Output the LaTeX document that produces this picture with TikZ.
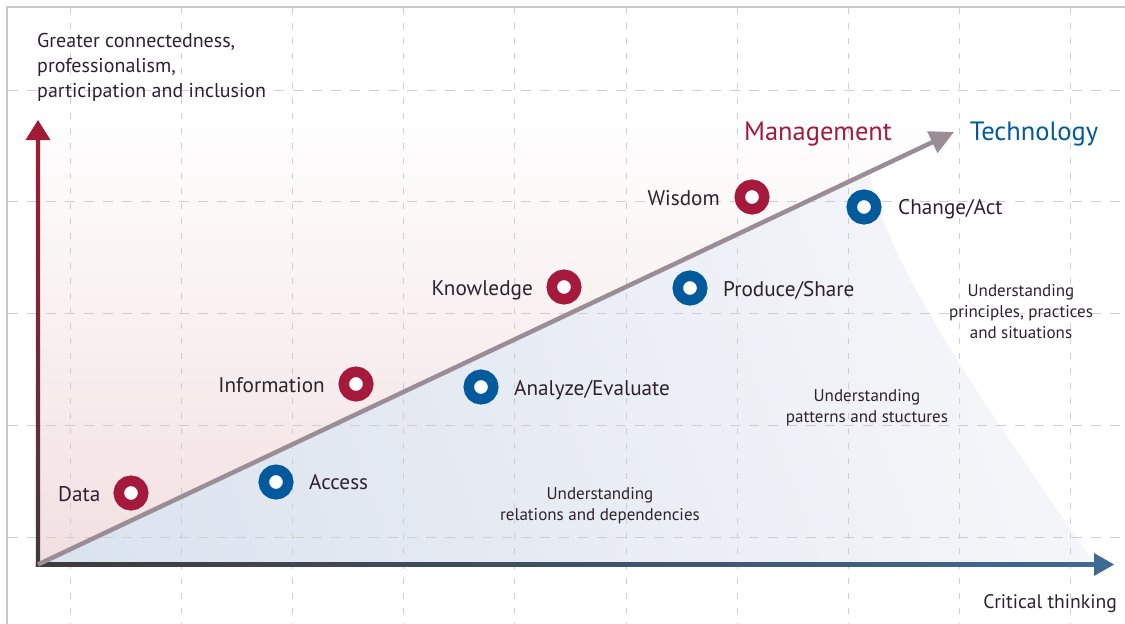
\documentclass[tikz,border=0pt]{standalone}
\usepackage{fontspec}
\setmainfont{PT Sans}
\usetikzlibrary{arrows.meta}
\definecolor{txt}{HTML}{2E2130}
\definecolor{mred}{HTML}{A51A3C}
\definecolor{tblue}{HTML}{005A9C}
\definecolor{gridc}{HTML}{CFCFCF}
\definecolor{framec}{HTML}{C8C8C8}
\definecolor{axdark}{HTML}{3F3A3B}
\definecolor{axred}{HTML}{A01C36}
\definecolor{axblue}{HTML}{3F6A93}
\definecolor{diagc}{HTML}{9A8D95}
\definecolor{pinkA}{HTML}{EBCDD1}
\definecolor{pinkB}{HTML}{F5E6E7}
\definecolor{blueA}{HTML}{D0DFED}
\definecolor{blueB}{HTML}{E4E9F2}
\definecolor{blueC}{HTML}{F4F5F9}
\definecolor{blueD}{HTML}{FDFDFE}
\pgfdeclareverticalshading{pinkshade}{100bp}{color(0bp)=(pinkA); color(35bp)=(pinkB); color(75bp)=(white); color(100bp)=(white)}
\pgfdeclarehorizontalshading{blueshade}{100bp}{color(0bp)=(blueA); color(40bp)=(blueB); color(72bp)=(blueC); color(100bp)=(blueD)}
\begin{document}
\begin{tikzpicture}[x=1pt,y=-1pt,
  ring/.style={circle, inner sep=0pt, minimum size=24.5pt, line width=10.5pt, fill=white},
  redring/.style={ring, draw=mred},
  bluering/.style={ring, draw=tblue},
  lbl/.style={font=\fontsize{21.2}{25}\selectfont, text=txt, inner sep=0pt},
  small/.style={font=\fontsize{17}{21}\selectfont, text=txt, inner sep=0pt, align=center},
  vgrid/.style={gridc, line width=1pt, dash pattern=on 6pt off 9pt},
  hgrid/.style={gridc, line width=1pt, dash pattern=on 10pt off 9pt}]
\useasboundingbox (0,0) rectangle (1125,624);
\fill[white] (0,0) rectangle (1125,624);
\coordinate (O) at (38,564.5);
\coordinate (ytip) at (38,120);
\coordinate (xtip) at (1114,564.5);
\coordinate (dtip) at (954,132);
% shaded regions
\shade[shading=pinkshade] (O) -- (38,105) -- (954,105) -- (dtip) -- cycle;
\shade[shading=blueshade, shading angle=20] (O) -- (870,173.5) .. controls (885,270) and (1010,440) .. (1096,566) -- cycle;
% frame
\draw[framec, line width=2pt] (7,624) -- (7,7) -- (1125,7);
% grid
\foreach \gx in {70,181.2,292.4,403.6,514.8,626,737.2,848.4,959.6,1070.8}
  \draw[vgrid] (\gx,8) -- (\gx,624);
\foreach \gy in {90,201.75,313.5,425.25,537}
  \draw[hgrid] (8,\gy) -- (1125,\gy);
% axes
\shade[bottom color=axdark, top color=axred] (35.8,566.8) rectangle (40.2,138);
\fill[axred] (ytip) -- (25.5,140) -- (50.5,140) -- cycle;
\shade[left color=axdark, right color=axblue] (35.8,562.2) rectangle (1096,566.8);
\fill[axblue] (xtip) -- (1094,553) -- (1094,576) -- cycle;
\draw[diagc, line width=4.5pt, -{Triangle[length=24pt,width=23pt]}] (O) -- (dtip);
% rings
\node[redring] (data) at (131,493) {};
\node[redring] (info) at (356,384) {};
\node[redring] (know) at (564,287) {};
\node[redring] (wis) at (752,197) {};
\node[bluering] (acc) at (276,482) {};
\node[bluering] (ana) at (481,387) {};
\node[bluering] (prod) at (690,288) {};
\node[bluering] (chg) at (864,207) {};
% labels
\node[lbl, anchor=base east] (datal) at (100.5,501) {Data};
\node[lbl, anchor=base east] (infol) at (325,392) {Information};
\node[lbl, anchor=base east] (knowl) at (533,295) {Knowledge};
\node[lbl, anchor=base east] (wisl) at (720,205) {Wisdom};
\node[lbl, anchor=base west] (accl) at (309,489) {Access};
\node[lbl, anchor=base west] (anal) at (514,395) {Analyze/Evaluate};
\node[lbl, anchor=base west] (prodl) at (723,296) {Produce/Share};
\node[lbl, anchor=base west] (chgl) at (898,214) {Change/Act};
% axis texts
\node[lbl, font=\fontsize{20}{25}\selectfont, align=left, anchor=base west] (ylab) at (37,97) {Greater connectedness,\\professionalism,\\participation and inclusion};
\node[lbl, font=\fontsize{19.6}{23}\selectfont, anchor=base east] (xlab) at (1117,608) {Critical thinking};
\node[lbl, font=\fontsize{26.5}{30}\selectfont, text=mred, anchor=base] (mgmt) at (818,140) {Management};
\node[lbl, font=\fontsize{26.5}{30}\selectfont, text=tblue, anchor=base] (tech) at (1034,140) {Technology};
% understanding texts
\node[small, anchor=base] (u1) at (1021,338) {Understanding\\principles, practices\\and situations};
\node[small, anchor=base] (u2) at (867,422.5) {Understanding\\patterns and stuctures};
\node[small, anchor=base] (u3) at (600,520.5) {Understanding\\relations and dependencies};
\end{tikzpicture}
\end{document}
